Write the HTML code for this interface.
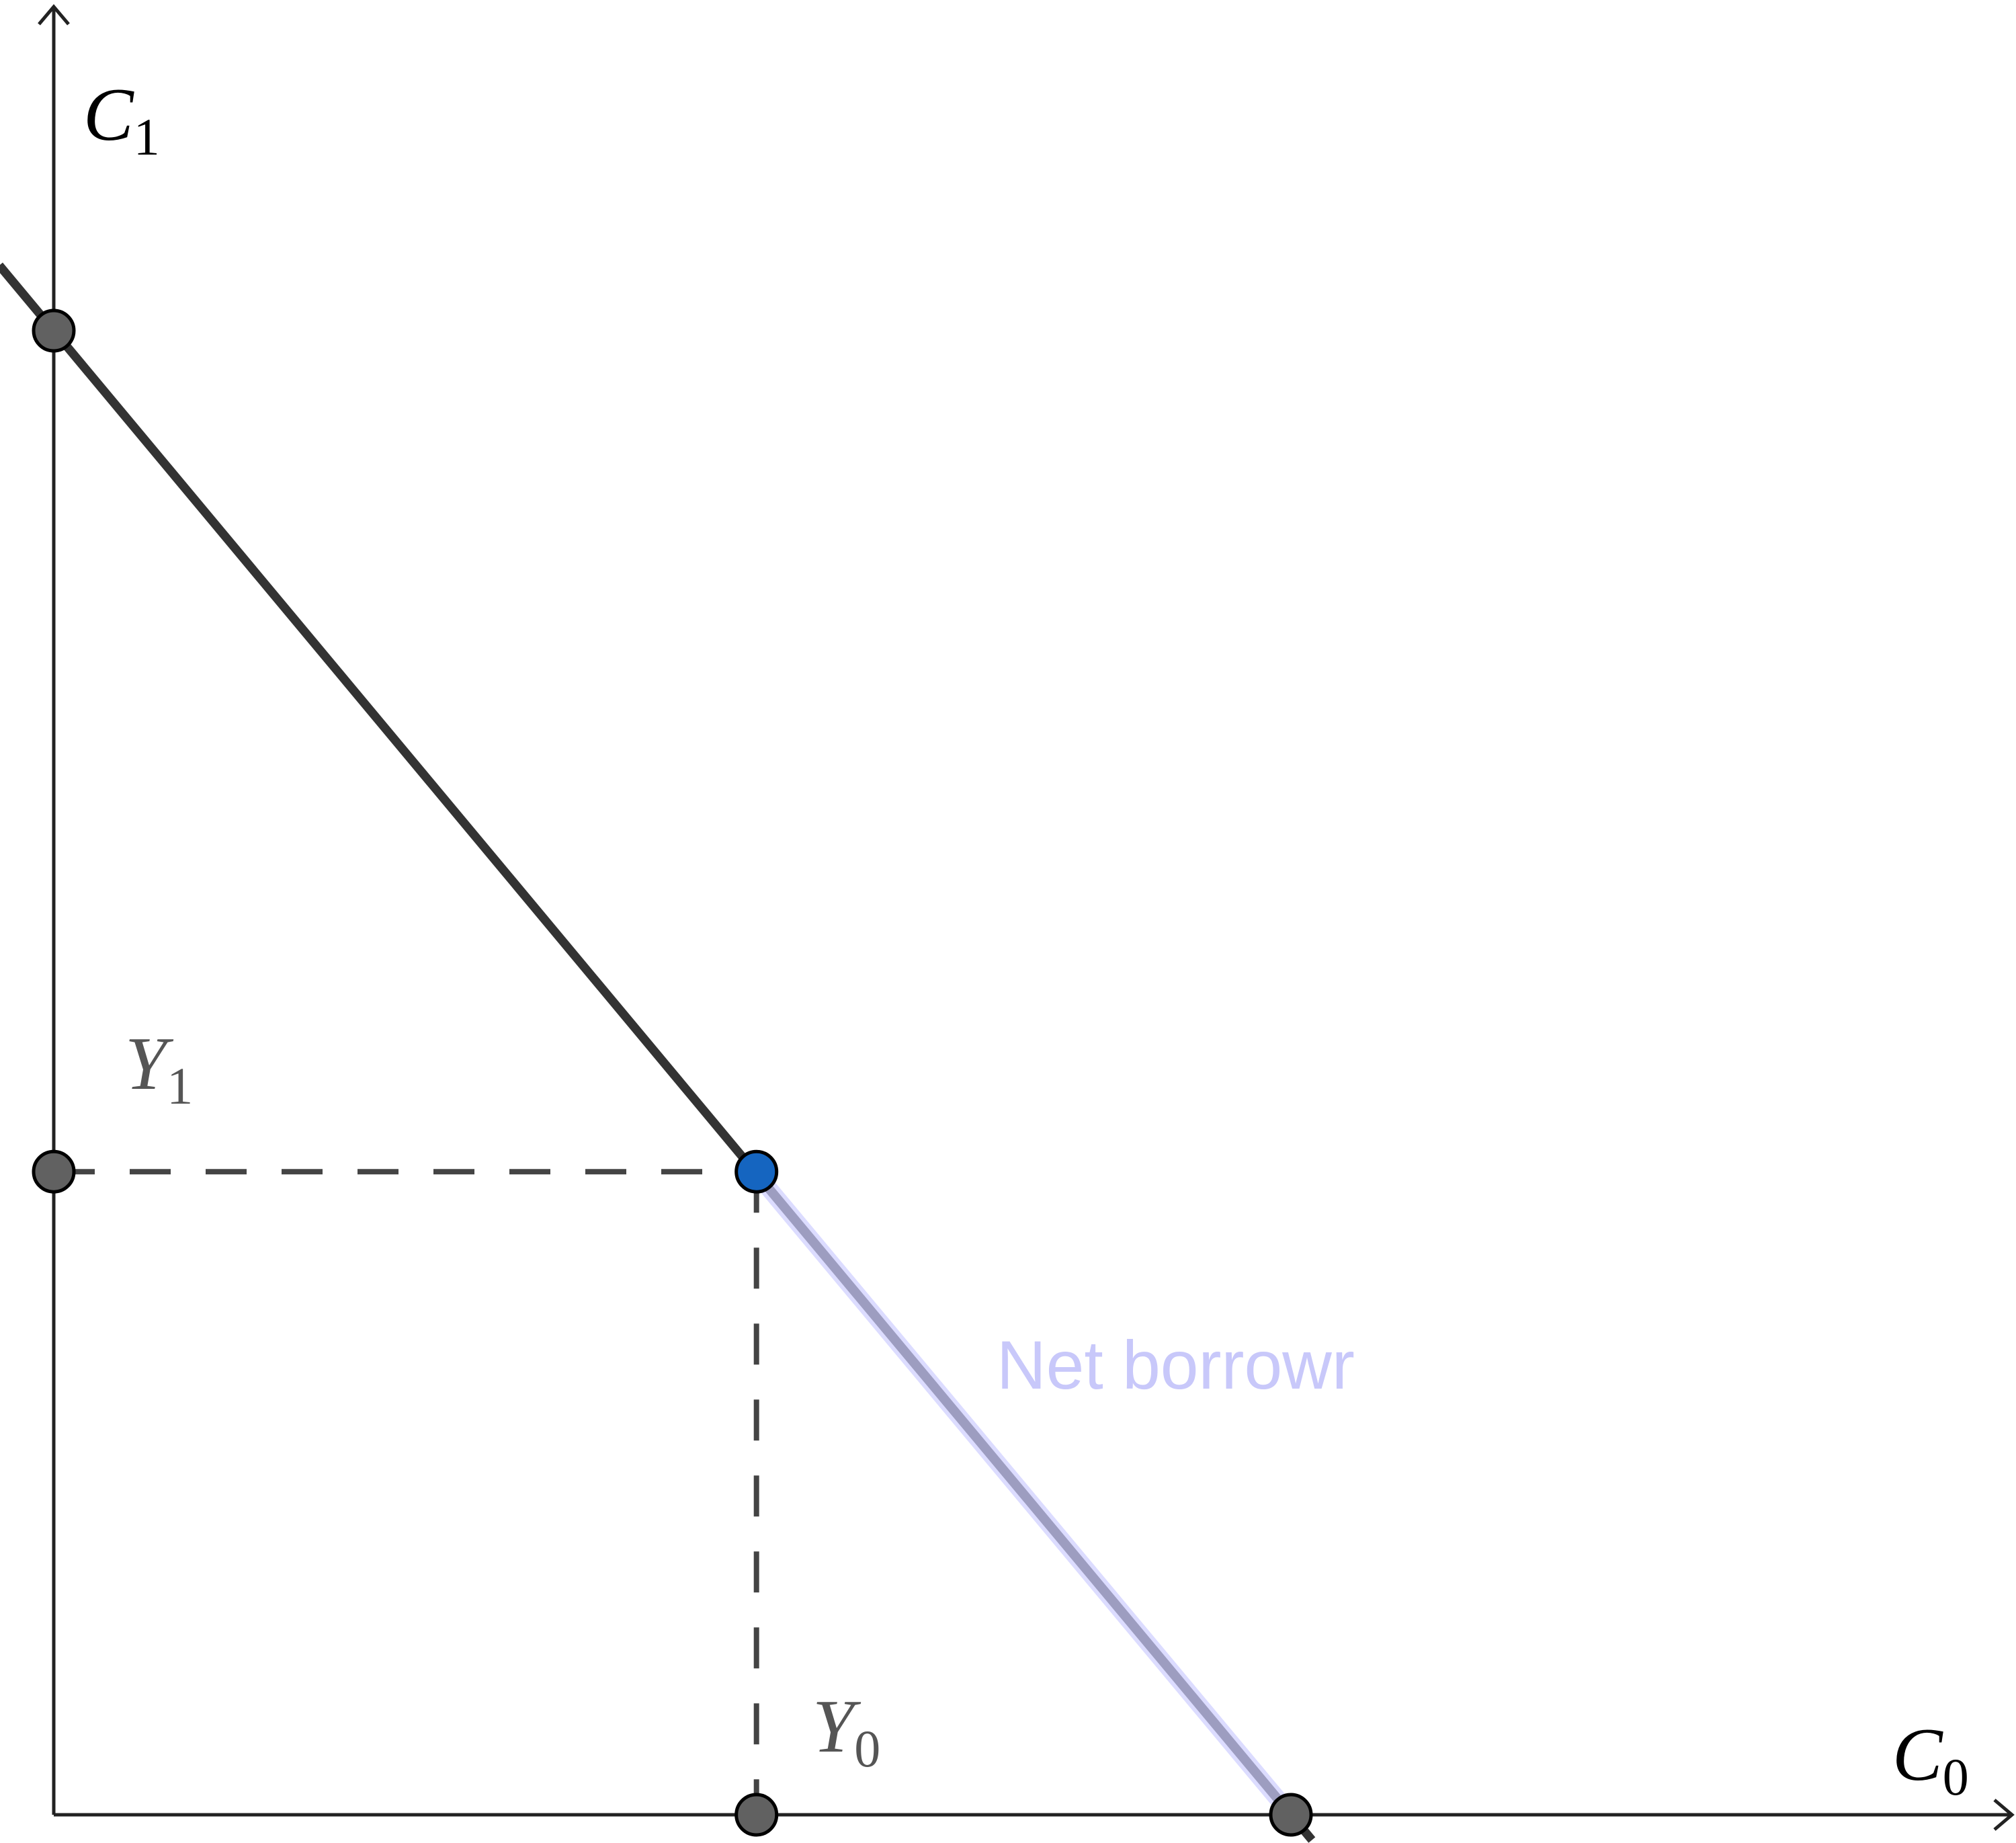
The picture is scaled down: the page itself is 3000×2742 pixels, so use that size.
<!DOCTYPE html>
<html><head><meta charset="utf-8"><style>
html,body{margin:0;padding:0;background:#fff;}
svg{display:block;}
text{font-family:"Liberation Serif",serif;}
</style></head><body>
<svg id="chart" width="3000" height="2742" viewBox="0 0 3000 2742" xmlns="http://www.w3.org/2000/svg">
<g id="axes">
<line x1="80" y1="2700" x2="80" y2="10" stroke="#222" stroke-width="5"/>
<polyline points="58,36 80,10 102,36" fill="none" stroke="#222" stroke-width="5"/>
<line x1="80" y1="2700" x2="2994" y2="2700" stroke="#222" stroke-width="5"/>
<polyline points="2968,2678 2994,2700 2968,2722" fill="none" stroke="#222" stroke-width="5"/>
</g>
<g id="marks"></g>
<text x="124" y="208" font-size="112" font-style="italic" fill="#000">C<tspan font-size="78" font-style="normal" dy="22">1</tspan></text>
<text x="2816" y="2648" font-size="112" font-style="italic" fill="#000">C<tspan font-size="78" font-style="normal" dy="22">0</tspan></text>
<text x="186" y="1620" font-size="112" font-style="italic" fill="#555">Y<tspan font-size="78" font-style="normal" dy="22">1</tspan></text>
<text x="1209" y="2606" font-size="112" font-style="italic" fill="#555">Y<tspan font-size="78" font-style="normal" dy="22">0</tspan></text>
<text x="1483" y="2066" font-size="102" fill="#c8c8fa" style="font-family:'Liberation Sans',sans-serif">Net borrowr</text>
</svg>
<script>
const intercepts = [10, 12];   // C0 max, C1 max
const endowment = [5.68, 5.2]; // Y0, Y1
const ns = "http://www.w3.org/2000/svg";
const x0 = 80, y0 = 2700, sx = 184.1, sy = 184.0;
function X(v){return x0 + v*sx;}
function Y(v){return y0 - v*sy;}
const g = document.getElementById('marks');
function mk(tag, attrs){const e=document.createElementNS(ns,tag);for(const k in attrs)e.setAttribute(k,attrs[k]);g.appendChild(e);return e;}
const C0 = intercepts[0], C1 = intercepts[1];
function lineY(x){return C1*(1 - x/C0);}
let xa=-0.44, xb=10.17;
let e = mk('line',{x1:X(xa),y1:Y(lineY(xa)),x2:X(xb),y2:Y(lineY(xb)),stroke:'#333',"stroke-width":13});


e = mk('line',{x1:X(endowment[0]),y1:Y(lineY(endowment[0])),x2:X(C0),y2:Y(0),stroke:'#dcdcff',"stroke-width":26});


e = mk('line',{x1:X(endowment[0]),y1:Y(lineY(endowment[0])),x2:X(C0),y2:Y(0),stroke:'#9d9dc0',"stroke-width":14});


e = mk('line',{x1:X(0),y1:Y(endowment[1]),x2:X(endowment[0]),y2:Y(endowment[1]),stroke:'#444',"stroke-width":8,"stroke-dasharray":"61 52"});


e = mk('line',{x1:X(endowment[0]),y1:Y(endowment[1]),x2:X(endowment[0]),y2:Y(0),stroke:'#444',"stroke-width":8,"stroke-dasharray":"61 52"});


const pts = [[0,C1,'#616161','c1-intercept-point'],[0,endowment[1],'#616161','y1-point'],[endowment[0],0,'#616161','y0-point'],[C0,0,'#616161','c0-intercept-point'],[endowment[0],endowment[1],'#1565c0','endowment-point']];
pts.forEach(p=>{
  const c = mk('circle',{cx:X(p[0]),cy:Y(p[1]),r:30,fill:p[2],stroke:'#000',"stroke-width":5});
  
  
});
</script>
</body></html>
